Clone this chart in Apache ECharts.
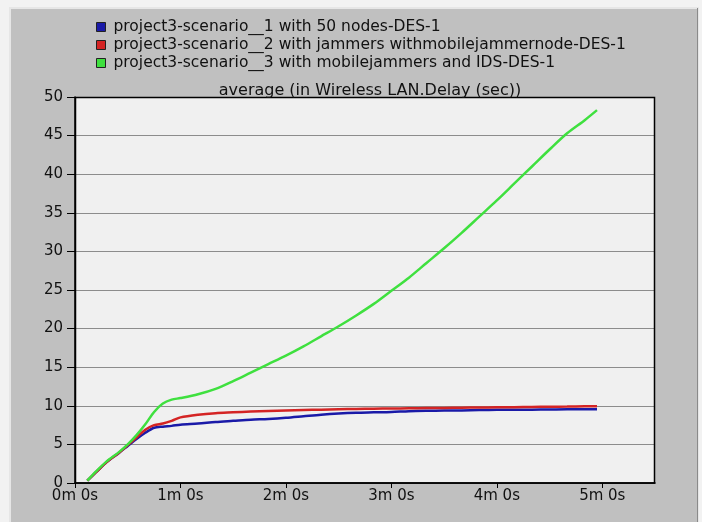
<!DOCTYPE html>
<html>
<head>
<meta charset="utf-8">
<script src="https://cdn.jsdelivr.net/npm/echarts@6/dist/echarts.min.js"></script>
<style>
  html, body { margin: 0; padding: 0; background: #f2f2f2; }
  #chart { width: 702px; height: 522px; }
</style>
</head>
<body>
<div id="chart"></div>
<script>
// Simulation time (seconds) at which each statistic sample was taken
const timesSec = [7, 12, 18, 25, 30, 35, 40, 45, 50, 55, 60, 70, 80, 90, 100, 110, 120, 130, 140, 150, 160, 170, 180, 190, 200, 210, 220, 230, 240, 250, 260, 270, 280, 290, 297];

// Average Wireless LAN delay (sec) per scenario
const scenario1 = [0.3, 1.4, 2.7, 3.9, 4.8, 5.7, 6.5, 7.15, 7.3, 7.4, 7.55, 7.7, 7.9, 8.05, 8.2, 8.3, 8.45, 8.65, 8.85, 9.0, 9.1, 9.15, 9.2, 9.3, 9.35, 9.38, 9.4, 9.45, 9.5, 9.5, 9.5, 9.52, 9.55, 9.55, 9.55];
const scenario2 = [0.3, 1.4, 2.7, 3.9, 4.9, 5.9, 6.9, 7.5, 7.7, 8.05, 8.5, 8.85, 9.05, 9.15, 9.25, 9.33, 9.4, 9.45, 9.5, 9.55, 9.6, 9.62, 9.65, 9.68, 9.7, 9.72, 9.75, 9.78, 9.8, 9.82, 9.85, 9.88, 9.9, 9.93, 9.95];
const scenario3 = [0.3, 1.5, 2.8, 4.0, 5.0, 6.2, 7.6, 9.2, 10.3, 10.8, 11.0, 11.5, 12.2, 13.2, 14.3, 15.4, 16.5, 17.7, 19.0, 20.3, 21.7, 23.2, 24.9, 26.6, 28.5, 30.4, 32.4, 34.5, 36.6, 38.8, 41.0, 43.2, 45.3, 47.0, 48.3];

const seriesNames = [
  'project3-scenario__1 with 50 nodes-DES-1',
  'project3-scenario__2 with jammers withmobilejammernode-DES-1',
  'project3-scenario__3 with mobilejammers and IDS-DES-1'
];
const seriesColors = ['#1a1aa8', '#d42424', '#3fe03f'];
const seriesValues = [scenario1, scenario2, scenario3];

// Axis ticks: delay (sec) and time (sec, labelled as "Xm 0s")
const yTicks = [0, 5, 10, 15, 20, 25, 30, 35, 40, 45, 50];
const xTicksSec = [0, 60, 120, 180, 240, 300];
const chartTitle = 'average (in Wireless LAN.Delay (sec))';

const chart = echarts.init(document.getElementById('chart'), null, { renderer: 'canvas' });

const font = 'DejaVu Sans, Verdana, sans-serif';

chart.setOption({
  animation: false,
  backgroundColor: '#f2f2f2',
  graphic: [
    // grey panel behind the whole chart
    { type: 'rect', z: -10, shape: { x: 10, y: 8, width: 688, height: 520 },
      style: { fill: '#c0c0c0', stroke: '#e6e6e6', lineWidth: 2 } },
    { type: 'line', z: -9, shape: { x1: 697.5, y1: 8, x2: 697.5, y2: 522 },
      style: { stroke: '#8a8a8a', lineWidth: 1 } },
    // plot frame (top & right edges)
    { type: 'rect', z: 5, shape: { x: 75.5, y: 97.5, width: 579, height: 385.5 },
      style: { fill: 'none', stroke: '#000', lineWidth: 1.5 } }
  ],
  title: {
    text: chartTitle,
    left: 365,
    textAlign: 'center',
    top: 78,
    textStyle: { fontFamily: font, fontSize: 16, fontWeight: 'normal', color: '#111' }
  },
  legend: {
    orient: 'vertical',
    left: 91,
    top: 14,
    itemWidth: 9,
    itemHeight: 9,
    itemGap: 2,
    icon: 'rect',
    itemStyle: { borderColor: '#222', borderWidth: 1 },
    textStyle: { fontFamily: font, fontSize: 15.5, color: '#111', padding: [0, 0, 0, 3] },
    data: seriesNames
  },
  grid: { left: 75, top: 97, right: 47, bottom: 39, show: true, backgroundColor: '#f0f0f0', borderWidth: 0 },
  xAxis: {
    type: 'value',
    min: 0,
    max: 330,
    interval: 60,
    axisLine: { show: true, lineStyle: { color: '#000', width: 1.5 } },
    axisTick: { show: true, length: 5, customValues: xTicksSec, lineStyle: { color: '#000' } },
    splitLine: { show: false },
    axisLabel: {
      fontFamily: font, fontSize: 15, color: '#111', margin: 6,
      customValues: xTicksSec,
      formatter: v => (v / 60) + 'm 0s'
    }
  },
  yAxis: {
    type: 'value',
    min: yTicks[0],
    max: yTicks[yTicks.length - 1],
    interval: 5,
    axisLine: { show: true, lineStyle: { color: '#000', width: 1.5 } },
    axisTick: { show: true, length: 8, lineStyle: { color: '#000' } },
    splitLine: { show: true, lineStyle: { color: '#8c8c8c', width: 1.2 } },
    axisLabel: { fontFamily: font, fontSize: 15, color: '#111', margin: 12 }
  },
  series: seriesNames.map((name, i) => ({
    name,
    type: 'line',
    smooth: 0.3,
    showSymbol: false,
    z: 3 + i,
    data: timesSec.map((t, k) => [t, seriesValues[i][k]]),
    itemStyle: { color: seriesColors[i] },
    lineStyle: { color: seriesColors[i], width: 2.5 }
  }))
});
</script>
</body>
</html>
